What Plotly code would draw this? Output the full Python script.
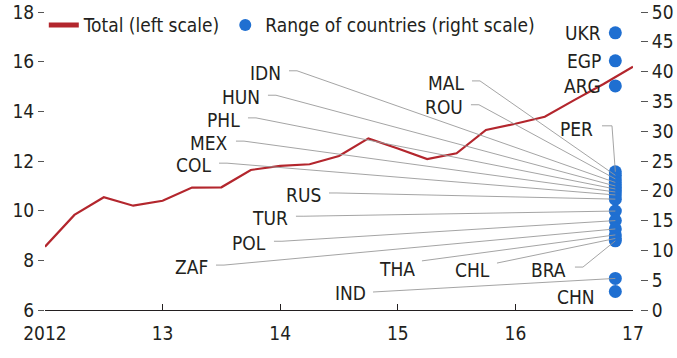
import plotly.graph_objects as go

# ---- data ----
quarters = [2012.0, 2012.25, 2012.5, 2012.75, 2013.0, 2013.25, 2013.5, 2013.75,
            2014.0, 2014.25, 2014.5, 2014.75, 2015.0, 2015.25, 2015.5, 2015.75,
            2016.0, 2016.25, 2016.5, 2016.75, 2017.0]
total = [8.55, 9.83, 10.54, 10.2, 10.4, 10.93, 10.94, 11.64, 11.8, 11.87, 12.2,
         12.91, 12.5, 12.08, 12.31, 13.25, 13.5, 13.78, 14.45, 15.1, 15.8]

countries = ["UKR", "EGP", "ARG", "PER", "MAL", "ROU", "IDN", "HUN", "PHL", "MEX",
             "COL", "RUS", "TUR", "POL", "ZAF", "THA", "CHL", "BRA", "IND", "CHN"]
country_values = [46.5, 41.8, 37.6, 23.2, 22.6, 22.0, 21.4, 20.8, 20.3, 19.8,
                  19.3, 18.6, 16.6, 15.0, 13.6, 12.6, 12.0, 11.6, 5.3, 3.1]
country_date = 2016.85

x_tickvals = [2012, 2013, 2014, 2015, 2016, 2017]
x_ticktext = ["2012", "13", "14", "15", "16", "17"]
left_ticks = [6, 8, 10, 12, 14, 16, 18]
right_ticks = [0, 5, 10, 15, 20, 25, 30, 35, 40, 45, 50]

# ---- label layout (right edge in years, centre on right scale) ----
label_pos = {
    "UKR": (2016.745, 46.5), "EGP": (2016.745, 41.8), "ARG": (2016.745, 37.6),
    "PER": (2016.677, 30.4), "MAL": (2015.58, 38.1), "ROU": (2015.571, 34.1),
    "IDN": (2014.024, 39.8), "HUN": (2013.845, 35.7), "PHL": (2013.675, 31.9),
    "MEX": (2013.573, 28.0), "COL": (2013.429, 24.3), "RUS": (2014.364, 19.3),
    "TUR": (2014.083, 15.4), "POL": (2013.896, 11.2), "ZAF": (2013.403, 7.2),
    "THA": (2015.163, 6.9), "CHL": (2015.801, 6.7), "BRA": (2016.447, 6.7),
    "IND": (2014.747, 2.85), "CHN": (2016.694, 2.2),
}
no_leader = {"UKR", "EGP", "ARG", "CHN"}
# leader style: (gap px, rise px, elbow px)
leader_style = {"PER": (7, 3, 10), "THA": (5, 8, 0), "CHL": (5, 7, 0),
                "BRA": (7, 3, 8), "IND": (5, 1, 0)}
default_leader = (6, 2, 8)

PX_PER_YEAR = 117.6
PX_PER_UNIT2 = 5.96

RED = "#b3262d"
BLUE = "#1f6fd1"
TXT = "#231f20"
FONT = "DejaVu Sans Condensed, sans-serif"
FS = 19

fig = go.Figure()
fig.add_trace(go.Scatter(x=quarters, y=total, mode="lines", name="Total (left scale)",
                         line=dict(color=RED, width=2.2), yaxis="y"))
fig.add_trace(go.Scatter(x=[country_date] * len(countries), y=country_values, mode="markers",
                         name="Range of countries (right scale)",
                         marker=dict(color=BLUE, size=13), yaxis="y2"))

lx, ly = [], []
for c, v in zip(countries, country_values):
    if c in no_leader:
        continue
    px0, py0 = label_pos[c]
    gap, rise, elbow = leader_style.get(c, default_leader)
    sx = px0 + gap / PX_PER_YEAR
    sy = py0 + rise / PX_PER_UNIT2
    ex = sx + elbow / PX_PER_YEAR
    lx += [sx, ex, country_date, None]
    ly += [sy, sy, v, None]
fig.add_trace(go.Scatter(x=lx, y=ly, mode="lines", yaxis="y2", showlegend=False,
                         hoverinfo="skip", line=dict(color="#9a9a9a", width=0.9)))

for c in countries:
    px0, py0 = label_pos[c]
    fig.add_annotation(x=px0, y=py0, xref="x", yref="y2", text=c, showarrow=False,
                       xanchor="right", yanchor="middle",
                       font=dict(family=FONT, size=FS, color=TXT))

fig.update_layout(
    width=677, height=358,
    margin=dict(l=45, r=30, t=12, b=48, autoexpand=False),
    paper_bgcolor="white", plot_bgcolor="white",
    font=dict(family=FONT, size=FS, color=TXT),
    showlegend=True,
    legend=dict(orientation="h", x=-0.002, y=1.02, xanchor="left", yanchor="top",
                bgcolor="rgba(0,0,0,0)", font=dict(size=FS), itemsizing="constant",
                tracegroupgap=0),
    xaxis=dict(range=[2012, 2017], domain=[0, 0.9767], tickvals=x_tickvals,
               ticktext=x_ticktext, ticks="inside", ticklen=6, tickcolor=TXT,
               showline=True, linecolor=TXT, linewidth=1, showgrid=False,
               zeroline=False, automargin=False, ticklabelstandoff=6),
    yaxis=dict(range=[6, 18], tickvals=left_ticks, ticks="outside", ticklen=6,
               tickcolor="#555", showline=False, showgrid=False, zeroline=False,
               automargin=False),
    yaxis2=dict(range=[0, 50], tickvals=right_ticks, overlaying="y", side="right",
                anchor="free", position=0.9884, ticks="outside", ticklen=7,
                tickcolor="#555", showline=False, showgrid=False, zeroline=False,
                automargin=False),
)

fig.write_html("out.html", config={"displayModeBar": False},
               post_script="document.body.style.margin='0';document.body.style.overflow='hidden';")
